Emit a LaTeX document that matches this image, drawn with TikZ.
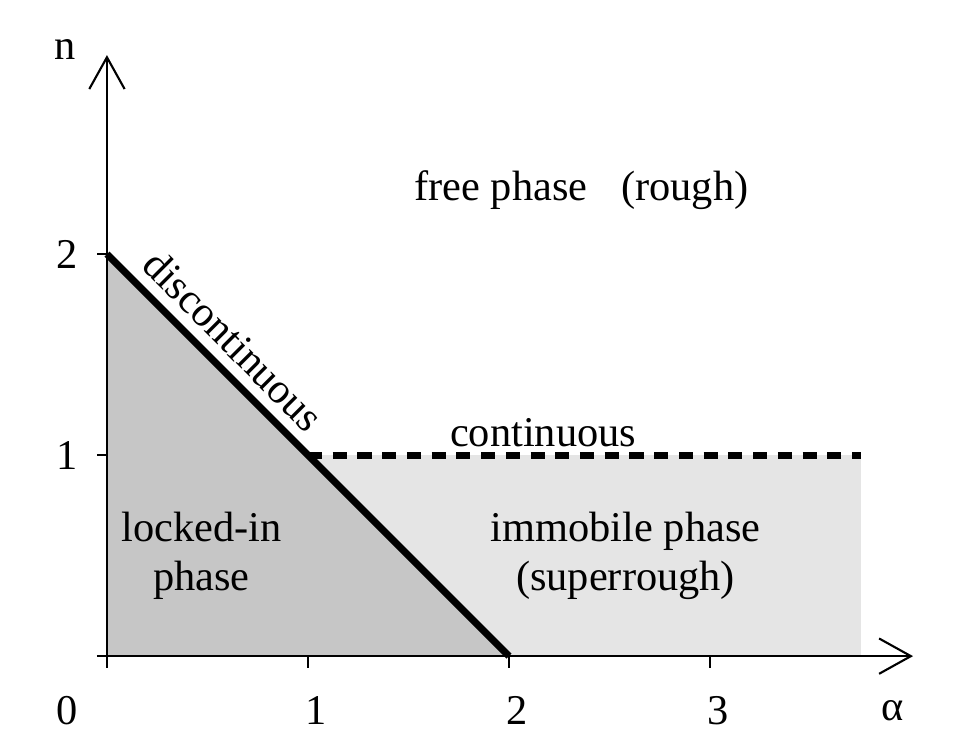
\documentclass[tikz,border=0pt]{standalone}
\usepackage{fontspec}
\setmainfont{Liberation Serif}
\usetikzlibrary{arrows.meta}
\begin{document}
\begin{tikzpicture}[x=2cm, y=2cm, font=\fontsize{12}{14}\selectfont,
    axis/.style={-{Straight Barb[length=9pt,width=10pt]}, semithick},
    lbl/.style={align=center, inner sep=1pt}]
    \useasboundingbox (-0.532,-0.418) rectangle (4.328,3.264);
    % Phase regions
    \fill[gray!20] (1,0) rectangle (3.75,1);
    \fill[gray!45] (0,0) -- (0,2) -- (2,0) -- cycle;

    % Axes
    \coordinate (O) at (0,0);
    \coordinate (Xend) at (4.01,0);
    \coordinate (Yend) at (0,2.99);
    \draw[axis] (-0.05,0) -- (Xend);
    \draw[axis] (O) -- (Yend);
    \foreach \x in {0,...,3}
        \draw[semithick] (\x,0) -- (\x,-0.06);
    \foreach \y in {1,2}
        \draw[semithick] (0,\y) -- (-0.05,\y);

    % Phase boundaries
    \coordinate (A) at (0,2);
    \coordinate (B) at (1,1);
    \coordinate (C) at (2,0);
    \coordinate (D) at (3.75,1);
    \draw[line width=2pt] (A) -- (C);
    \draw[line width=2pt, dash pattern=on 4pt off 3pt] (B) -- (D);

    % Labels
    \node (l0) at (-0.2,-0.27) {0};
    \foreach \x in {1,2,3}
        \node (l\x) at (\x+0.04,-0.27) {\x};
    \node (la) at (3.91,-0.27) {α};
    \node (m1) at (-0.2,1) {1};
    \node (m2) at (-0.2,2) {2};
    \node (ln) at (-0.21,3.02) {n};
    \node[lbl] (free) at (2.36,2.32) {free phase\hspace{0.8em}(rough)};
    \node[lbl] (cont) at (2.17,1.11) {continuous};
    \node[lbl] (lock) at (0.47,0.50) {locked-in\\phase};
    \node[lbl] (immo) at (2.58,0.50) {immobile phase\\(superrough)};
    \node[lbl, rotate=-45] (disc) at (0.63,1.57) {discontinuous};
\end{tikzpicture}
\end{document}
